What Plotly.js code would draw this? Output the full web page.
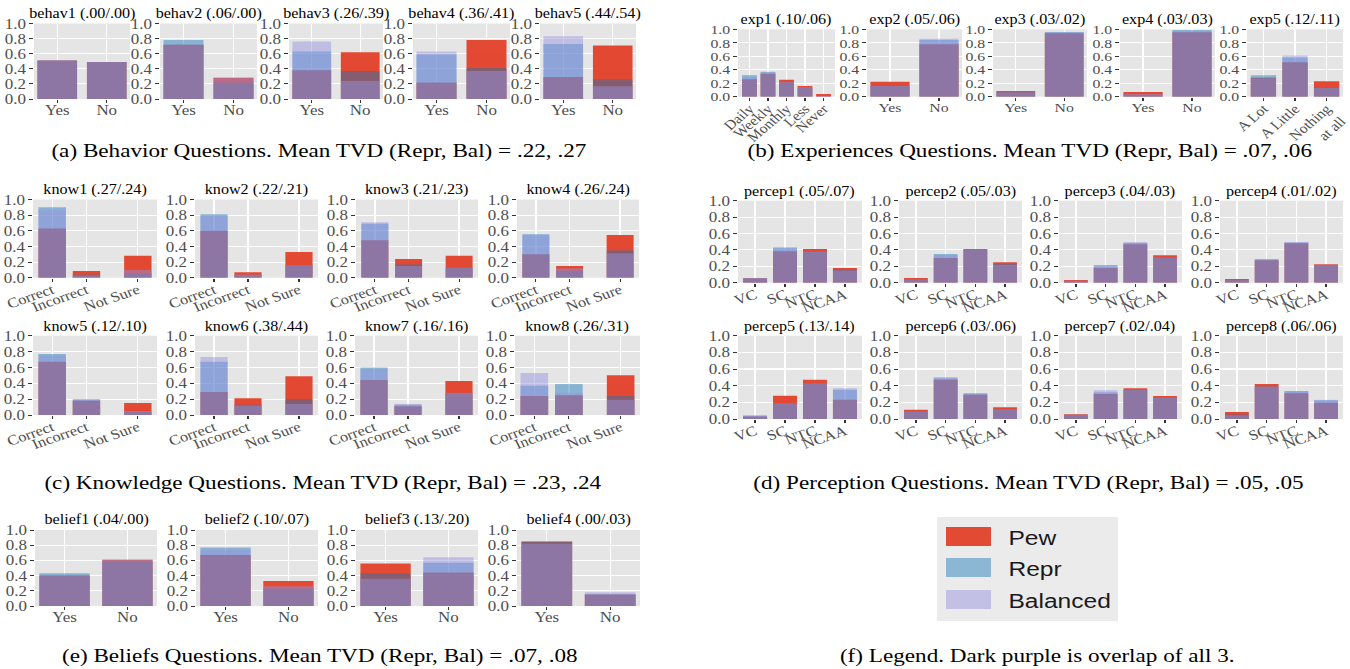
<!DOCTYPE html>
<html><head><meta charset="utf-8">
<script src="https://cdn.plot.ly/plotly-3.0.1.min.js"></script>
<style>
html,body{margin:0;padding:0;background:#fff;overflow:hidden}
#wrap{width:1350px;height:669px;overflow:hidden}
#plot{width:1154px;height:669px;transform:scaleX(1.169844);transform-origin:0 0}
</style></head>
<body><div id="wrap"><div id="plot"></div></div>
<script>
// ---------------- DATA ----------------
const yesNo = ['Yes', 'No'];
const exp1Cats = ['Daily', 'Weekly', 'Monthly', 'Less', 'Never'];
const exp5Cats = ['A Lot', 'A Little', 'Nothing<br>at all'];
const knowCats = ['Correct', 'Incorrect', 'Not Sure'];
const knowPos = [0, 1, 2.5];
const percepCats = ['VC', 'SC', 'NTC', 'NCAA'];

const behavTitles = ['behav1 (.00/.00)', 'behav2 (.06/.00)', 'behav3 (.26/.39)', 'behav4 (.36/.41)', 'behav5 (.44/.54)'];
const behavPew  = [[0.51, 0.49], [0.72, 0.28], [0.38, 0.62], [0.22, 0.78], [0.29, 0.71]];
const behavRepr = [[0.51, 0.49], [0.78, 0.22], [0.63, 0.37], [0.59, 0.41], [0.73, 0.26]];
const behavBal  = [[0.51, 0.49], [0.72, 0.28], [0.76, 0.24], [0.63, 0.37], [0.83, 0.17]];

const expTitles = ['exp1 (.10/.06)', 'exp2 (.05/.06)', 'exp3 (.03/.02)', 'exp4 (.03/.03)', 'exp5 (.12/.11)'];
const expPew  = [[0.26, 0.34, 0.25, 0.16, 0.04], [0.22, 0.78], [0.085, 0.94], [0.07, 0.955], [0.28, 0.51, 0.23]];
const expRepr = [[0.32, 0.37, 0.21, 0.13, 0.005], [0.16, 0.84], [0.065, 0.96], [0.03, 0.99], [0.32, 0.58, 0.13]];
const expBal  = [[0.29, 0.36, 0.22, 0.14, 0.01], [0.16, 0.86], [0.065, 0.955], [0.04, 0.975], [0.275, 0.61, 0.13]];

const knowTitles = ['know1 (.27/.24)', 'know2 (.22/.21)', 'know3 (.21/.23)', 'know4 (.26/.24)',
                    'know5 (.12/.10)', 'know6 (.38/.44)', 'know7 (.16/.16)', 'know8 (.26/.31)'];
const knowPew  = [[0.63, 0.085, 0.28], [0.60, 0.07, 0.33], [0.48, 0.24, 0.28], [0.30, 0.15, 0.545],
                  [0.67, 0.18, 0.15], [0.29, 0.21, 0.49], [0.44, 0.11, 0.43], [0.24, 0.25, 0.50]];
const knowRepr = [[0.90, 0.04, 0.06], [0.81, 0.03, 0.16], [0.69, 0.17, 0.13], [0.555, 0.09, 0.35],
                  [0.77, 0.20, 0.04], [0.67, 0.13, 0.20], [0.60, 0.13, 0.27], [0.37, 0.39, 0.24]];
const knowBal  = [[0.87, 0.03, 0.10], [0.80, 0.04, 0.16], [0.71, 0.15, 0.13], [0.55, 0.12, 0.31],
                  [0.75, 0.19, 0.05], [0.73, 0.12, 0.14], [0.58, 0.14, 0.28], [0.53, 0.28, 0.19]];

const percepTitles = ['percep1 (.05/.07)', 'percep2 (.05/.03)', 'percep3 (.04/.03)', 'percep4 (.01/.02)',
                      'percep5 (.13/.14)', 'percep6 (.03/.06)', 'percep7 (.02/.04)', 'percep8 (.06/.06)'];
const percepPew  = [[0.055, 0.385, 0.41, 0.18], [0.057, 0.30, 0.41, 0.25], [0.033, 0.18, 0.47, 0.335], [0.045, 0.275, 0.48, 0.225],
                    [0.03, 0.28, 0.47, 0.23], [0.11, 0.47, 0.29, 0.14], [0.056, 0.30, 0.37, 0.275], [0.085, 0.42, 0.31, 0.195]];
const percepRepr = [[0.055, 0.43, 0.38, 0.16], [0.035, 0.35, 0.41, 0.23], [0.02, 0.215, 0.485, 0.31], [0.03, 0.285, 0.49, 0.215],
                    [0.04, 0.19, 0.43, 0.35], [0.09, 0.49, 0.31, 0.11], [0.05, 0.32, 0.35, 0.26], [0.055, 0.39, 0.335, 0.225]];
const percepBal  = [[0.055, 0.42, 0.38, 0.15], [0.04, 0.335, 0.41, 0.22], [0.025, 0.20, 0.495, 0.31], [0.035, 0.29, 0.495, 0.22],
                    [0.045, 0.19, 0.43, 0.37], [0.09, 0.505, 0.30, 0.115], [0.05, 0.345, 0.35, 0.26], [0.045, 0.39, 0.335, 0.23]];

const beliefTitles = ['belief1 (.04/.00)', 'belief2 (.10/.07)', 'belief3 (.13/.20)', 'belief4 (.00/.03)'];
const beliefPew  = [[0.40, 0.61], [0.67, 0.33], [0.56, 0.44], [0.85, 0.15]];
const beliefRepr = [[0.43, 0.58], [0.77, 0.23], [0.43, 0.57], [0.845, 0.155]];
const beliefBal  = [[0.40, 0.61], [0.74, 0.26], [0.36, 0.64], [0.82, 0.18]];

const captions = [
  '(a) Behavior Questions. Mean TVD (Repr, Bal) = .22, .27',
  '(b) Experiences Questions. Mean TVD (Repr, Bal) = .07, .06',
  '(c) Knowledge Questions. Mean TVD (Repr, Bal) = .23, .24',
  '(d) Perception Questions. Mean TVD (Repr, Bal) = .05, .05',
  '(e) Beliefs Questions. Mean TVD (Repr, Bal) = .07, .08',
  '(f) Legend. Dark purple is overlap of all 3.'
];
const seriesNames = ['Pew', 'Repr', 'Balanced'];

// ---------------- STYLE ----------------
const TW = 1350, H = 669, W = 1154;
const COL = ['#E34A33', 'rgb(23,119,186)', 'rgb(150,144,223)'];
const OPA = [1, 0.45, 0.47];
const SERIF = 'Liberation Serif, Times New Roman, serif';

const panels = [];
function add(title, cats, pos, vals, box, top, bot, ty, angle, range, fs, xfs) {
  panels.push({title, cats, pos, vals, l: box[0], r: box[1], top, bot, ty, angle, range, fs, xfs});
}

const behavBoxes = [[34, 130], [160, 257], [289, 383], [413, 510], [540, 636]];
behavTitles.forEach((t, i) => add(t, yesNo, [0, 1], [behavPew[i], behavRepr[i], behavBal[i]],
  behavBoxes[i], 23.5, 99, 14, 0, [-0.47, 1.47], 14.5, 14.5));

const expBoxes = [[738, 835], [867, 962], [993, 1087], [1120, 1215], [1247, 1343]];
const expCats = [exp1Cats, yesNo, yesNo, yesNo, exp5Cats];
const expRanges = [[-0.62, 4.62], [-0.47, 1.47], [-0.47, 1.47], [-0.47, 1.47], [-0.52, 2.52]];
const expAngles = [-45, 0, 0, 0, -45];
expTitles.forEach((t, i) => add(t, expCats[i], expCats[i].map((_, k) => k), [expPew[i], expRepr[i], expBal[i]],
  expBoxes[i], 29.3, 96.7, 20, expAngles[i], expRanges[i], 13.5, 13.5));

const knowBoxes = [[33, 157], [195, 318], [356, 478], [517, 639], [33, 157], [195, 318], [355, 478], [515, 640]];
knowTitles.forEach((t, i) => {
  const row2 = i >= 4;
  add(t, knowCats, knowPos, [knowPew[i], knowRepr[i], knowBal[i]], knowBoxes[i],
    row2 ? 335.7 : 199.5, row2 ? 415 : 277.7, row2 ? 327 : 190, -22, [-0.56, 3.06], 14.5, 14);
});

const percepBoxes = [[738, 862], [899, 1022], [1059, 1182], [1220, 1343]];
percepTitles.forEach((t, i) => {
  const row2 = i >= 4;
  add(t, percepCats, [0, 1, 2, 3], [percepPew[i], percepRepr[i], percepBal[i]], percepBoxes[i % 4],
    row2 ? 335.7 : 200.7, row2 ? 419 : 282.7, row2 ? 327 : 192, -22, [-0.57, 3.57], 14.5, 14);
});

const beliefBoxes = [[35, 157], [196, 318], [356, 478], [517, 640]];
beliefTitles.forEach((t, i) => add(t, yesNo, [0, 1], [beliefPew[i], beliefRepr[i], beliefBal[i]],
  beliefBoxes[i], 530, 606, 520, 0, [-0.47, 1.47], 14.5, 14.5));

// ---------------- BUILD ----------------
const traces = [];
const layout = {
  width: W, height: H, margin: {l: 0, r: 0, t: 0, b: 0},
  paper_bgcolor: '#ffffff', plot_bgcolor: '#E5E5E5',
  barmode: 'overlay', showlegend: false,
  annotations: [], shapes: []
};
const px = x => x / TW;
const py = y => 1 - y / H;

panels.forEach((p, idx) => {
  const n = idx + 1;
  const xs = n === 1 ? 'x' : 'x' + n, ys = n === 1 ? 'y' : 'y' + n;
  const xk = n === 1 ? 'xaxis' : 'xaxis' + n, yk = n === 1 ? 'yaxis' : 'yaxis' + n;
  p.vals.forEach((v, s) => traces.push({
    type: 'bar', x: p.pos, y: v, width: 0.8, name: seriesNames[s],
    marker: {color: COL[s], line: {width: 0}}, opacity: OPA[s],
    xaxis: xs, yaxis: ys, hoverinfo: 'skip'
  }));
  layout[xk] = {
    domain: [px(p.l), px(p.r)], range: p.range, anchor: ys,
    tickmode: 'array', tickvals: p.pos, ticktext: p.cats, tickangle: p.angle,
    showgrid: true, gridcolor: '#ffffff', gridwidth: 1.1, zeroline: false, showline: false,
    ticks: 'outside', ticklen: 3, tickwidth: 1, tickcolor: '#333333',
    tickfont: {family: SERIF, size: p.xfs, color: '#4D4D4D'},
    ticklabeloverflow: 'allow', ticklabelstandoff: -5, fixedrange: true
  };
  layout[yk] = {
    domain: [py(p.bot), py(p.top)], range: [0, 1], anchor: xs,
    tickmode: 'array', tickvals: [0, 0.2, 0.4, 0.6, 0.8, 1.0], ticktext: ['0.0', '0.2', '0.4', '0.6', '0.8', '1.0'],
    showgrid: true, gridcolor: '#ffffff', gridwidth: 1.1, zeroline: false, showline: false,
    ticks: 'outside', ticklen: 3, tickwidth: 1, tickcolor: '#333333',
    tickfont: {family: SERIF, size: p.fs, color: '#4D4D4D'},
    ticklabeloverflow: 'allow', fixedrange: true
  };
  layout.annotations.push({
    text: p.title, x: px((p.l + p.r) / 2), y: py(p.ty), xref: 'paper', yref: 'paper',
    xanchor: 'center', yanchor: 'middle', showarrow: false,
    font: {family: SERIF, size: 13.8, color: '#000000'}
  });
});

const capPos = [[319, 150], [1030, 150], [323, 482], [1028, 482], [320, 655], [1037, 655]];
captions.forEach((c, i) => layout.annotations.push({
  text: c, x: px(capPos[i][0]), y: py(capPos[i][1]), xref: 'paper', yref: 'paper',
  xanchor: 'center', yanchor: 'middle', showarrow: false,
  font: {family: SERIF, size: 19.8, color: '#000000'}
}));

// legend (drawn as decoration)
layout.shapes.push({type: 'rect', xref: 'paper', yref: 'paper', x0: px(937), x1: px(1118), y0: py(621), y1: py(517),
  fillcolor: '#EBEBEB', line: {width: 0}, layer: 'below'});
const legY = [[527, 546], [558, 577], [590, 609]];
seriesNames.forEach((nm, s) => {
  layout.shapes.push({type: 'rect', xref: 'paper', yref: 'paper', x0: px(946), x1: px(991),
    y0: py(legY[s][1]), y1: py(legY[s][0]), fillcolor: COL[s], opacity: OPA[s], line: {width: 0}});
  layout.annotations.push({text: nm, x: px(1006), y: py((legY[s][0] + legY[s][1]) / 2 + 0.5), xref: 'paper', yref: 'paper',
    xanchor: 'left', yanchor: 'middle', showarrow: false,
    font: {family: 'Liberation Sans, Arial, sans-serif', size: 21, color: '#1A1A1A'}});
});

Plotly.newPlot('plot', traces, layout, {staticPlot: true, displayModeBar: false});
</script>
</body></html>
